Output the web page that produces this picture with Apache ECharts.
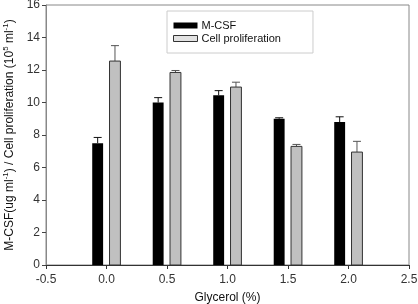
<!DOCTYPE html>
<html>
<head>
<meta charset="utf-8">
<script src="https://cdn.jsdelivr.net/npm/echarts@6/dist/echarts.min.js"></script>
<style>
  html, body { margin: 0; padding: 0; background: #fff; }
  #chart { width: 418px; height: 304px; }
</style>
</head>
<body>
<div id="chart"></div>
<script>
// glycerol concentrations (%)
const glycerol = [0.0, 0.5, 1.0, 1.5, 2.0]
const mcsf = [7.5, 10.0, 10.45, 9.0, 8.8]
const mcsfErr = [0.35, 0.3, 0.28, 0.06, 0.32]
const prolif = [12.55, 11.85, 10.95, 7.3, 6.95]
const prolifErr = [0.95, 0.12, 0.3, 0.12, 0.66]

const chart = echarts.init(document.getElementById('chart'))

// bar + upward error bar, drawn through the axis scales
function barRenderer(offset, fill, stroke, edge) {
  return function (params, api) {
    const x = api.value(0)
    const y = api.value(1)
    const e = api.value(2)
    const base = api.coord([x + offset, 0])
    const top = api.coord([x + offset, y])
    const errTop = api.coord([x + offset, y + e])
    const w = api.size([0.09, 0])[0]
    return {
      type: 'group',
      children: [
        {
          type: 'line',
          shape: { x1: top[0], y1: top[1], x2: errTop[0], y2: errTop[1] },
          style: { stroke: edge, lineWidth: 1 }
        },
        {
          type: 'line',
          shape: { x1: errTop[0] - 4, y1: errTop[1], x2: errTop[0] + 4, y2: errTop[1] },
          style: { stroke: edge, lineWidth: 1 }
        },
        {
          type: 'rect',
          shape: { x: base[0] - w / 2, y: top[1], width: w, height: base[1] - top[1] },
          style: { fill: fill, stroke: stroke, lineWidth: stroke ? 1 : 0 }
        }
      ]
    }
  }
}

const font = 'Liberation Sans, Arial, sans-serif'

chart.setOption({
  animation: false,
  grid: {
    left: 46, right: 9, top: 5, bottom: 39,
    outerBoundsMode: 'none',
    show: true, borderColor: '#888', borderWidth: 1
  },
  legend: {
    orient: 'vertical',
    left: 167,
    top: 11,
    padding: [9, 32, 9, 6],
    itemGap: 2,
    itemWidth: 24,
    itemHeight: 6,
    borderColor: '#ccc',
    borderWidth: 1,
    backgroundColor: '#fff',
    textStyle: { fontFamily: font, fontSize: 11, lineHeight: 9, color: '#111', padding: [0, 0, 0, -1] },
    data: [
      { name: 'M-CSF', icon: 'rect' },
      { name: 'Cell proliferation', icon: 'rect', itemStyle: { color: '#e2e2e2', borderColor: '#333', borderWidth: 1 } }
    ]
  },
  xAxis: {
    type: 'value',
    min: -0.5,
    max: 2.5,
    interval: 0.5,
    name: 'Glycerol (%)',
    nameLocation: 'middle',
    nameGap: 27,
    nameTextStyle: { fontFamily: font, fontSize: 12, color: '#111' },
    splitLine: { show: false },
    axisLine: { onZero: false, lineStyle: { color: '#333' } },
    axisTick: { length: 4, lineStyle: { color: '#333' } },
    axisLabel: {
      fontFamily: font, fontSize: 12, color: '#333', margin: 9,
      formatter: v => v.toFixed(1)
    }
  },
  yAxis: {
    type: 'value',
    min: 0,
    max: 16,
    interval: 2,
    name: '{a|M-CSF(ug ml}{s|-1}{a|) / Cell proliferation (10}{s|5}{a| ml}{s|-1}{a|)}',
    nameLocation: 'middle',
    nameGap: 28,
    nameTextStyle: {
      rich: {
        a: { fontFamily: font, fontSize: 12, color: '#111', lineHeight: 14, verticalAlign: 'bottom' },
        s: { fontFamily: font, fontSize: 8, color: '#111', lineHeight: 14, verticalAlign: 'top' }
      }
    },
    splitLine: { show: false },
    axisLine: { show: true, onZero: false, lineStyle: { color: '#888' } },
    axisTick: { show: true, length: 4, lineStyle: { color: '#444' } },
    axisLabel: { fontFamily: font, fontSize: 12, color: '#333', margin: 6 }
  },
  series: [
    {
      name: 'M-CSF',
      type: 'custom',
      itemStyle: { color: '#000' },
      renderItem: barRenderer(-0.073, '#000', null, '#111'),
      data: glycerol.map((g, i) => [g, mcsf[i], mcsfErr[i]]),
      z: 3
    },
    {
      name: 'Cell proliferation',
      type: 'custom',
      itemStyle: { color: '#c0c0c0', borderColor: '#333', borderWidth: 1 },
      renderItem: barRenderer(0.07, '#c0c0c0', '#333', '#555'),
      data: glycerol.map((g, i) => [g, prolif[i], prolifErr[i]]),
      z: 3
    }
  ]
})
</script>
</body>
</html>
